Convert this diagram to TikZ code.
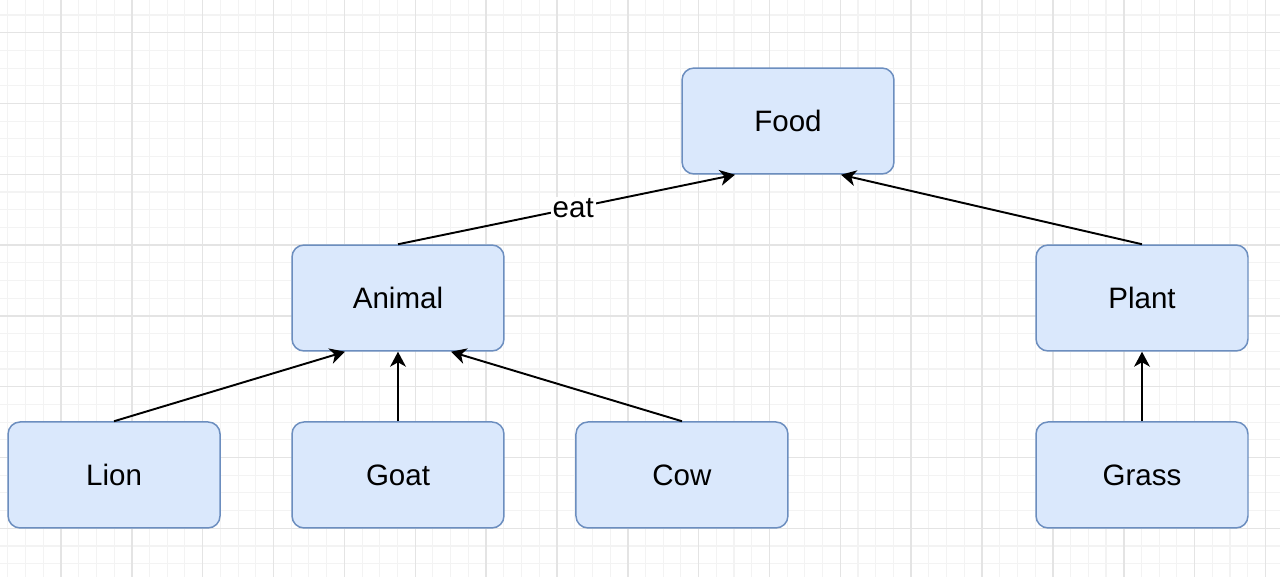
\documentclass[tikz,border=0pt]{standalone}
\usepackage{fontspec}
\setmainfont{Liberation Sans}
\usepackage{tikz}
\usetikzlibrary{arrows.meta,positioning}
\definecolor{boxfill}{HTML}{DAE8FC}
\definecolor{boxline}{HTML}{6C8EBF}
\definecolor{gridminor}{HTML}{F3F3F3}
\definecolor{gridmajor}{HTML}{E4E4E4}

\begin{document}
\begin{tikzpicture}[x=0.02cm, y=-0.02cm, node distance = 3.54cm,
  box/.style={draw=boxline, fill=boxfill, line width=0.85pt, rounded corners=0.24cm,
    minimum width=4.24cm, minimum height=2.12cm, font=\fontsize{16.8}{20}\selectfont},
  link/.style={-{Stealth[length=8.5pt,width=9pt,inset=2.5pt]}, line width=1.1pt}]
\useasboundingbox (0,0) rectangle (1280,577);
\clip (0,0) rectangle (1280,577);
% grid
\foreach \i in {0,...,71} \draw[gridminor, line width=0.6pt] ({7.8+17.7125*\i},0) -- ({7.8+17.7125*\i},577);
\foreach \i in {0,...,32} \draw[gridminor, line width=0.6pt] (0,{-2.7+17.7*\i}) -- (1280,{-2.7+17.7*\i});
\foreach \i in {-1,...,17} \draw[gridmajor, line width=0.85pt] ({61+70.85*\i},0) -- ({61+70.85*\i},577);
\foreach \i in {0,...,7} \draw[gridmajor, line width=0.85pt] (0,{32.7+70.8*\i}) -- (1280,{32.7+70.8*\i});

\node[box] (food) at (788,121) {Food};
\node[box] (animal) at (398,298) {Animal};
\node[box] (plant) at (1142,298) {Plant};
\node[box] (goat) [below of = animal] {Goat};
\node[box] (lion) [left of = goat, node distance = 5.68cm] {Lion};
\node[box] (cow) [right of = goat, node distance = 5.68cm] {Cow};
\node[box] (grass) [below of = plant] {Grass};

\path[link] (animal.north) edge node [pos=0.52, fill=white, inner sep=1pt, font=\fontsize{16.8}{20}\selectfont] {eat} ([xshift=-1.06cm]food.south)
        (plant.north) edge ([xshift=1.06cm]food.south)
        (lion.north) edge ([xshift=-1.06cm]animal.south)
        (goat.north) edge (animal.south)
        (cow.north) edge ([xshift=1.06cm]animal.south)
        (grass.north) edge (plant.south);
\end{tikzpicture}
\end{document}
